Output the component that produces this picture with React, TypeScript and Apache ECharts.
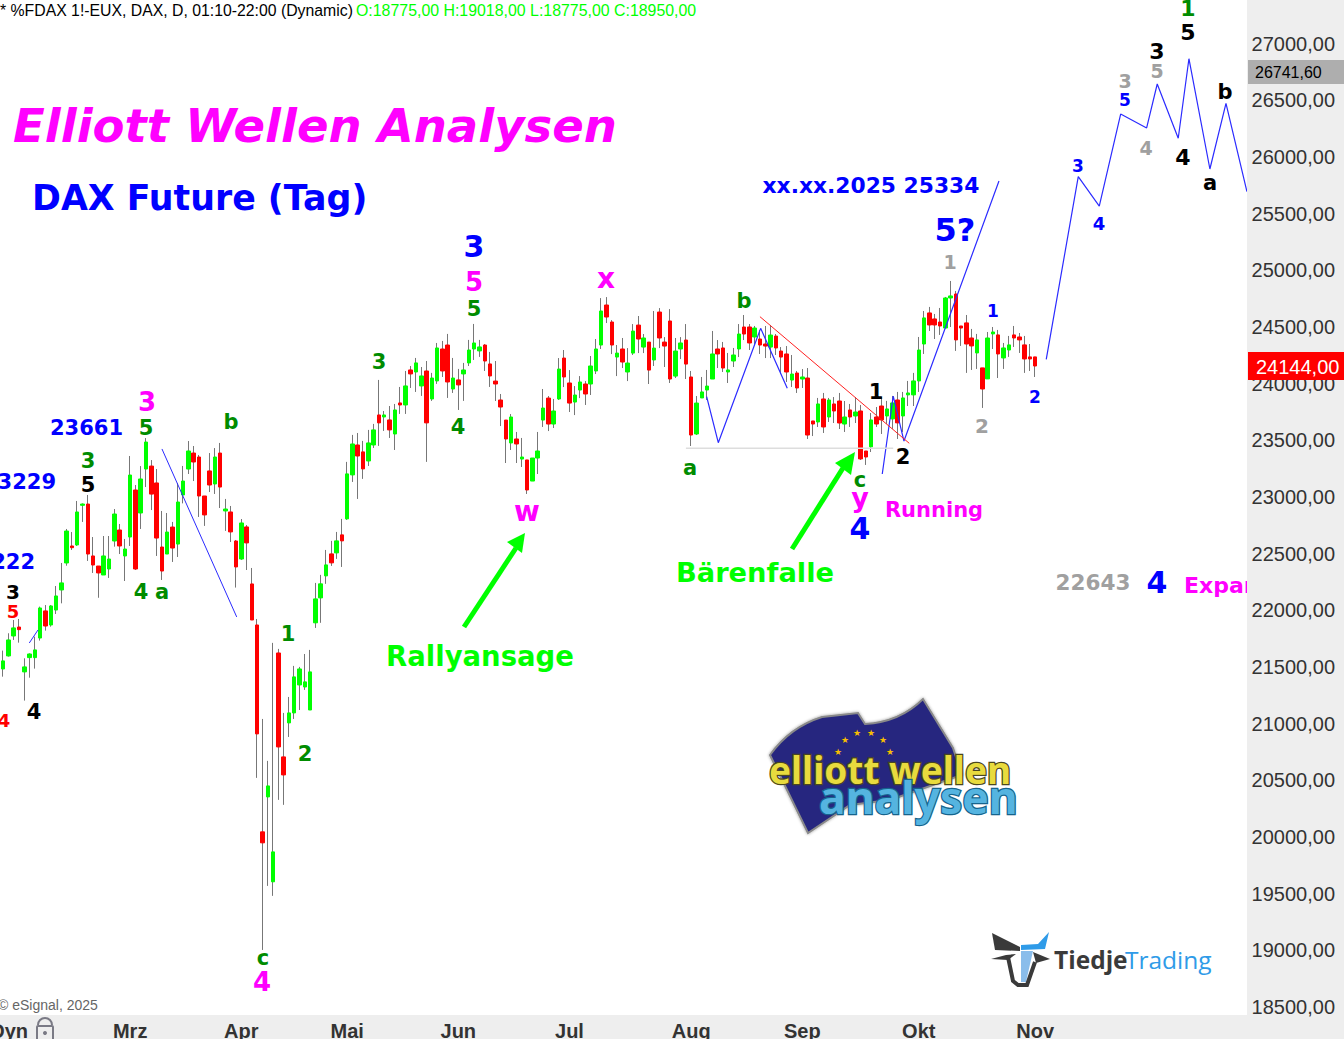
import React, { useEffect, useRef } from "react";
import * as echarts from "echarts";

// Candle direction, r = falling, g = rising
const direction = (
  "rgggrggggrggggrggrrrgggrggrggrrrgrg" +
  "ggrrrrgrgrrgrrrrggrrggggg" +
  "gggrgrggrrggrgrgrgrggrggrrgrggggrr" +
  "rrrgrgrgggrggrrggrgggrrgrggrgrgrrrggrrg" +
  "gggrrgggrrgrrgrrrgrgrrgrgrrgrgrrgr" +
  "rggrgggggrrrggrrrrgrggrggrrrrr"
).split("");

const upperBody = [
  21438, 21553, 21738, 21844, 21852, 21500, 21614, 21650, 22020, 21994, 22038, 22126, 22241, 22699, 22567, 22867, 22937, 22937, 22479, 22390, 22479, 22452, 22849, 22708, 22540, 23193, 23061, 23158, 23484, 23272, 23123, 22558, 22690, 22734, 22955,
  23140, 23405, 23387, 23352, 23008, 23229, 23352, 23387, 22893, 22867, 22611, 22770, 22735, 22232, 21870, 20045, 20450, 19868, 21623, 20706, 21094, 21412, 21482, 21368, 21456,
  22100, 22233, 22400, 22497, 22612, 22665, 23203, 23467, 23458, 23397, 23476, 23591, 23723, 23723, 23679, 23767, 23829, 23979, 24120, 24182, 24067, 24111, 24049, 24314, 24305, 24340, 24049, 24032, 24120, 24296, 24358, 24323, 24340, 24173,
  24022, 23855, 23678, 23705, 23511, 23352, 23326, 23343, 23405, 23784, 23872, 23758, 24128, 24225, 24005, 23899, 24014, 23996, 24155, 24305, 24640, 24693, 24543, 24269, 24305, 24181, 24463, 24516, 24402, 24366, 24313, 24631, 24366, 24552, 24287, 24358, 24384, 24058, 23828,
  23926, 23978, 24261, 24305, 24314, 24120, 24252, 24437, 24499, 24499, 24490, 24393, 24349, 24428, 24419, 24287, 24261, 24084, 24093, 24058, 24049, 23670, 23820, 23864, 23855, 23820, 23846, 23705, 23767, 23749, 23758, 23405, 23679, 23705,
  23802, 23776, 23829, 23855, 23873, 23917, 24023, 24296, 24579, 24623, 24570, 24543, 24755, 24773, 24790, 24508, 24535, 24402, 24385, 24138, 24402, 24455, 24429, 24314, 24341, 24429, 24411, 24341, 24235, 24235,
];
const lowerBody = [
  21406, 21482, 21597, 21773, 21829, 21456, 21582, 21582, 21755, 21861, 21870, 22002, 22179, 22417, 22552, 22576, 22926, 22496, 22399, 22329, 22311, 22364, 22611, 22567, 22479, 22646, 22364, 22858, 23246, 23025, 22637, 22346, 22496, 22549, 22584,
  23017, 23246, 23308, 23008, 22841, 23105, 23114, 23087, 22876, 22691, 22382, 22452, 22594, 21914, 20909, 19948, 20353, 19604, 20794, 20547, 21006, 21094, 21341, 21323, 21120,
  21889, 22109, 22303, 22418, 22506, 22612, 22806, 23194, 23361, 23247, 23317, 23458, 23653, 23705, 23591, 23555, 23811, 23811, 24085, 24102, 23979, 23653, 23864, 24023, 24111, 24014, 23952, 23988, 24085, 24182, 24305, 24288, 24199, 24067,
  23996, 23793, 23511, 23476, 23467, 23334, 23061, 23140, 23343, 23678, 23643, 23643, 23864, 24058, 23828, 23837, 23943, 23908, 23996, 24111, 24340, 24587, 24340, 24234, 24190, 24102, 24269, 24393, 24322, 24119, 24208, 24402, 24331, 24040, 24066, 24305, 24172, 23546, 23555,
  23873, 23943, 24040, 24261, 24137, 24102, 24199, 24305, 24437, 24358, 24411, 24340, 24331, 24322, 24314, 24234, 24102, 24031, 23961, 24040, 23546, 23643, 23661, 23617, 23705, 23758, 23652, 23643, 23705, 23714, 23335, 23352, 23441, 23643,
  23679, 23714, 23688, 23653, 23714, 23900, 23900, 24023, 24349, 24517, 24517, 24508, 24490, 24755, 24385, 24490, 24349, 24332, 24270, 23952, 24041, 24438, 24261, 24226, 24296, 24402, 24385, 24217, 24217, 24155,
];
const highs = [
  21480, 21644, 21797, 21914, 21923, 21576, 21620, 21767, 22032, 22046, 22046, 22214, 22417, 22717, 22690, 22964, 22943, 23017, 22646, 22390, 22655, 22655, 22893, 22761, 22629, 23361, 23105, 23272, 23519, 23325, 23246, 22876, 22858, 22779, 23123,
  23273, 23493, 23449, 23370, 23008, 23387, 23431, 23476, 22982, 22920, 22620, 22805, 22752, 22373, 21923, 21041, 20671, 21712, 21659, 21094, 21235, 21509, 21500, 21614, 21650,
  22241, 22312, 22532, 22612, 22691, 22806, 23309, 23547, 23564, 23494, 23591, 23644, 24032, 23758, 23802, 23820, 23970, 24111, 24155, 24226, 24146, 24199, 24094, 24358, 24376, 24438, 24226, 24129, 24182, 24385, 24526, 24385, 24349, 24279,
  24199, 23908, 23678, 23731, 23573, 23520, 23326, 23343, 23573, 23952, 23890, 23864, 24225, 24296, 24119, 23978, 24066, 24022, 24243, 24393, 24754, 24763, 24560, 24340, 24402, 24313, 24525, 24596, 24437, 24366, 24640, 24666, 24410, 24657, 24402, 24410, 24525, 24111, 23890,
  24058, 24120, 24464, 24384, 24367, 24270, 24314, 24525, 24605, 24525, 24508, 24472, 24508, 24517, 24437, 24322, 24331, 24252, 24111, 24128, 24137, 23670, 23873, 23917, 23873, 23881, 23917, 23846, 23820, 23881, 23811, 23405, 23740, 23793,
  23882, 23847, 23891, 23926, 23926, 24023, 24094, 24411, 24640, 24676, 24614, 24667, 24764, 24905, 24817, 24508, 24605, 24482, 24438, 24138, 24455, 24499, 24473, 24358, 24420, 24508, 24446, 24420, 24349, 24235,
];
const lows = [
  21330, 21414, 21591, 21738, 21714, 21203, 21405, 21485, 21732, 21820, 21855, 21967, 22061, 22393, 22532, 22567, 22779, 22435, 22329, 22110, 22311, 22285, 22561, 22496, 22258, 22567, 22355, 22717, 23087, 22884, 22479, 22267, 22496, 22426, 22470,
  22943, 23202, 23140, 22823, 22744, 23043, 23026, 22902, 22700, 22602, 22200, 22444, 22355, 21914, 20521, 19003, 19568, 19480, 20327, 20283, 20882, 21041, 21120, 21297, 21120,
  21844, 21889, 22233, 22391, 22453, 22382, 22797, 23132, 22982, 23159, 23273, 23432, 23450, 23582, 23520, 23414, 23732, 23732, 23961, 23926, 23891, 23309, 23847, 23997, 24058, 23873, 23917, 23767, 23847, 24155, 24208, 24235, 24111, 23970,
  23846, 23625, 23299, 23414, 23299, 23264, 23026, 23140, 23202, 23617, 23581, 23608, 23855, 23969, 23749, 23722, 23872, 23811, 23899, 24084, 24305, 24534, 24260, 24066, 24137, 24022, 24252, 24269, 24269, 23996, 24155, 24313, 24146, 24005, 24049, 24216, 24040, 23449, 23546,
  23873, 23855, 24040, 24137, 24102, 24005, 24146, 24234, 24384, 24296, 24349, 24261, 24225, 24225, 24252, 24084, 24014, 23970, 23917, 23961, 23511, 23537, 23617, 23564, 23661, 23652, 23599, 23573, 23617, 23652, 23326, 23282, 23396, 23617,
  23555, 23644, 23600, 23511, 23573, 23802, 23802, 23926, 24261, 24464, 24393, 24429, 24490, 24499, 24288, 24332, 24094, 24120, 24129, 23785, 24041, 24305, 24049, 24129, 24235, 24323, 24270, 24094, 24111, 24058,
];

const yTicks = [18500, 19000, 19500, 20000, 20500, 21000, 21500, 22000, 22500, 23000, 23500, 24000, 24500, 25000, 25500, 26000, 26500, 27000];
const monthNames = ["Mrz", "Apr", "Mai", "Jun", "Jul", "Aug", "Sep", "Okt", "Nov"];
const monthBars = [25, 46, 66, 87, 108, 131, 152, 174, 196];

// Wave counts: bar position and price
const waveABars = [6.44, 8.09];
const waveAPrices = [21711, 21826];
const waveBBars = [31.51, 45.63];
const waveBPrices = [23423, 21941];
const waveCBars = [134.42, 136.62, 144.62, 149.65];
const waveCPrices = [23884, 23478, 24487, 23958];
const waveDBars = [167.6, 169.67, 171.7, 189.65];
const waveDPrices = [23202, 23890, 23493, 25787];
const waveEBars = [198.58, 204.63, 208.6, 212.64, 217.55, 219.55, 223.52, 225.54, 229.5, 232.54, 236.5];
const waveEPrices = [24214, 25825, 25566, 26378, 26255, 26643, 26164, 26866, 25893, 26472, 25693];
const redTrendBars = [144.49, 172.7];
const redTrendPrices = [24590, 23473];
const supportBars = [130.5, 169.67];
const supportPrices = [23429, 23430];

const MIN_PRICE = 18429;
const MAX_PRICE = 27384;
const BAR_SLOTS = 237;
const PAGE_SHIFT = 6;

const fmt = (v: number) => v.toFixed(2).replace(".", ",");
const pair = (xs: number[], ys: number[]) => xs.map((x, i) => [x, ys[i]]);

const BLUE = "#0000FF";
const GREEN = "#008C00";
const MAGENTA = "#FF00FF";
const GRAY = "#A0A0A0";
const BLACK = "#000000";
const LIME = "#00FF00";
const VERDANA = '"DejaVu Sans", sans-serif';
const ARIAL = '"Liberation Sans", Arial, sans-serif';

function t(text: string, x: number, y: number, size: number, fill: string, align = "center", extra: any = {}) {
  return {
    type: "text",
    x,
    y,
    z: 4,
    silent: true,
    style: {
      text,
      fill,
      font: `bold ${size}px ${VERDANA}`,
      textAlign: align,
      textVerticalAlign: "middle",
      ...extra,
    },
  };
}
function plain(text: string, x: number, y: number, size: number, fill: string, z = 4, weight = "normal", align = "left") {
  return {
    type: "text",
    x,
    y,
    z,
    silent: true,
    style: { text, fill, font: `${weight} ${size}px ${ARIAL}`, textAlign: align, textVerticalAlign: "middle" },
  };
}
function poly(points: number[][], fill: string, z = 4) {
  return { type: "polygon", z, silent: true, shape: { points }, style: { fill } };
}

const annotations = [
  t("1", 1188, 8, 22, GREEN), t("5", 1188, 32, 22, BLACK), t("3", 1157, 51, 22, BLACK), t("5", 1157, 71, 19, GRAY),
  t("3", 1125, 81, 19, GRAY), t("5", 1125, 100, 17, BLUE), t("4", 1146, 148, 19, GRAY), t("3", 1078, 166, 17, BLUE),
  t("4", 1099, 223, 18, BLUE), t("4", 1183, 157, 22, BLACK), t("a", 1210, 183, 21, BLACK), t("b", 1225, 92, 21, BLACK),
  t("xx.xx.2025 25334", 871, 185, 21.8, BLUE), t("5?", 955, 230, 32, BLUE), t("1", 950, 262, 19, GRAY),
  t("1", 993, 311, 17, BLUE), t("2", 1035, 397, 17, BLUE), t("2", 982, 426, 20, GRAY), t("1", 876, 392, 21, BLACK),
  t("2", 903, 457, 21, BLACK), t("c", 860, 480, 21, GREEN), t("y", 860, 497, 27, MAGENTA), t("4", 860, 528, 30, BLUE),
  t("Running", 934, 510, 21, MAGENTA), t("22643", 1093, 582, 21.5, GRAY), t("4", 1157, 582, 30, BLUE),
  t("Expansion", 1184, 585, 22, MAGENTA, "left"),
  t("3", 147, 402, 26, MAGENTA), t("5", 146, 428, 21, GREEN), t("23661", 123, 428, 21, BLUE, "right"),
  t("3", 88, 461, 21, GREEN), t("5", 88, 485, 21, BLACK), t("3229", 56, 482, 21, BLUE, "right"),
  t("222", 35, 562, 21, BLUE, "right"), t("3", 13, 592, 20, BLACK), t("5", 13, 611, 18, "#FF0000"), t("4", 4, 720, 18, "#FF0000"),
  t("4", 34, 712, 21, BLACK), t("4", 141, 592, 21, GREEN), t("a", 162, 592, 21, GREEN), t("b", 231, 422, 21, GREEN),
  t("1", 288, 634, 21, GREEN), t("2", 305, 754, 21, GREEN), t("c", 263, 958, 21, GREEN), t("4", 262, 982, 26, MAGENTA),
  t("3", 379, 362, 21, GREEN), t("4", 458, 427, 21, GREEN), t("3", 474, 246, 30, BLUE), t("5", 474, 282, 26, MAGENTA),
  t("5", 474, 309, 21, GREEN), t("x", 606, 278, 28, MAGENTA), t("w", 527, 511, 28, MAGENTA), t("a", 690, 468, 21, GREEN),
  t("b", 744, 301, 21, GREEN),
  t("Rallyansage", 480, 656, 27.5, LIME), t("Bärenfalle", 755, 572, 27.3, LIME),
  t("Elliott Wellen Analysen", 13, 125.5, 46.5, MAGENTA, "left", { font: `italic bold 46.5px ${VERDANA}` }),
  t("DAX Future (Tag)", 32, 198, 34.8, BLUE, "left"),
];

const arrows = [
  { type: "line", z: 4, silent: true, shape: { x1: 464, y1: 627, x2: 516, y2: 548 }, style: { stroke: LIME, lineWidth: 5 } },
  poly([[525, 533], [507, 542], [522, 553]], LIME),
  { type: "line", z: 4, silent: true, shape: { x1: 792, y1: 549, x2: 843, y2: 468 }, style: { stroke: LIME, lineWidth: 5 } },
  poly([[855, 452], [835, 463], [851, 475]], LIME),
];

const starSpots = [[845, 740], [857, 733], [871, 733], [883, 740], [890, 752], [838, 752]];

echarts.graphic.registerShape(
  "euFlag",
  echarts.graphic.extendPath("M770 755 Q790 727 822 717 L858 713 L865 724 Q900 722 923 699 L953 748 L962 775 L890 800 L850 805 L808 833 Z", {}) as any
);

const flagLogo = [
  {
    type: "euFlag", z: 3, silent: true,
    style: {
      fill: "#26287F", stroke: "#8A8A8A", lineWidth: 2,
      shadowBlur: 3, shadowColor: "rgba(0,0,0,0.4)",
    },
  },
  ...starSpots.map(([x, y]) => ({
    type: "text", x, y, z: 3, silent: true,
    style: { text: "★", fill: "#F6BE00", font: `9px ${VERDANA}`, textAlign: "center", textVerticalAlign: "middle" },
  })),
  {
    type: "text", x: 769, y: 769, z: 3, silent: true,
    style: {
      text: "elliott wellen", fill: "#E8DB3E", stroke: "#4A4720", lineWidth: 2.5,
      font: `bold 37px "Noto Sans", ${VERDANA}`, textAlign: "left", textVerticalAlign: "middle",
    },
  },
  {
    type: "text", x: 819, y: 796, z: 3, silent: true,
    style: {
      text: "analysen", fill: "#55B4E0", stroke: "#16648C", lineWidth: 2.5,
      font: `bold 44.5px "Noto Sans", ${VERDANA}`, textAlign: "left", textVerticalAlign: "middle",
    },
  },
];

const DARK = "#3A3A3A";
const tiedjeLogo = [
  poly([[992, 933], [1020, 947], [1020, 951], [995, 950]], DARK),
  poly([[1049, 932], [1045, 949], [1021, 950], [1021, 945], [1038, 944]], "#2F9BE8"),
  poly([[1021, 951], [1033, 951], [1026, 982], [1021, 982]], "#8ABDEB"),
  poly([[1033, 952], [1050, 959], [1036, 963]], DARK),
  poly([[991, 959], [1006, 955], [1016, 954], [1008, 960]], DARK),
  {
    type: "polyline", z: 4, silent: true,
    shape: { points: [[1008, 957], [1013, 981], [1018, 985], [1027, 985], [1035, 962]] },
    style: { stroke: DARK, lineWidth: 4, fill: "none" },
  },
  {
    type: "text", x: 1054, y: 959, z: 4, silent: true,
    style: { text: "Tiedje", fill: DARK, font: `bold 24.5px "Open Sans"`, textAlign: "left", textVerticalAlign: "middle" },
  },
  {
    type: "text", x: 1125, y: 959, z: 4, silent: true,
    style: { text: "Trading", fill: "#2F9BE8", font: `24.5px "Open Sans"`, textAlign: "left", textVerticalAlign: "middle" },
  },
];

const lockIcon = [
  { type: "arc", z: 7, silent: true, shape: { cx: 45, cy: 1025, r: 7, startAngle: Math.PI, endAngle: 0 }, style: { stroke: "#7A7A85", lineWidth: 2, fill: "none" } },
  { type: "rect", z: 7, silent: true, shape: { x: 37, y: 1026, width: 16, height: 16, r: 1 }, style: { stroke: "#7A7A85", lineWidth: 2, fill: "none" } },
  { type: "circle", z: 7, silent: true, shape: { cx: 45, cy: 1033, r: 2 }, style: { fill: "#7A7A85" } },
];

const panels = [
  { type: "rect", z: 5, silent: true, shape: { x: 1247, y: 0, width: 97, height: 1039 }, style: { fill: "#EEEEEE" } },
  { type: "rect", z: 5, silent: true, shape: { x: 0, y: 1015, width: 1344, height: 24 }, style: { fill: "#EEEEEE" } },
  { type: "rect", z: 7, silent: true, shape: { x: 1248, y: 60, width: 96, height: 24 }, style: { fill: "#AEAEAE" } },
  plain("26741,60", 1255, 72, 16, "#000000", 8),
  { type: "rect", z: 7, silent: true, shape: { x: 1248, y: 352, width: 96, height: 28 }, style: { fill: "#FF0000" } },
  plain("24144,00", 1256, 367, 20, "#FFFFFF", 8),
  plain("Dyn", 28, 1031, 20, "#333333", 7, "bold", "right"),
];

const header = [
  plain("* %FDAX 1!-EUX, DAX, D, 01:10-22:00 (Dynamic)", 0, 10, 15.8, "#000000", 4),
  plain("O:18775,00 H:19018,00 L:18775,00 C:18950,00", 356, 10, 15.9, LIME, 4),
  plain("© eSignal, 2025", -2, 1005, 14, "#666666", 4),
];

function lineSeries(bars: number[], prices: number[], color: string, width = 1) {
  return {
    type: "line",
    xAxisIndex: 1,
    yAxisIndex: 0,
    data: pair(bars, prices),
    showSymbol: false,
    silent: true,
    z: 3,
    lineStyle: { color, width },
  };
}

export default function App() {
  const ref = useRef<HTMLDivElement>(null);
  useEffect(() => {
    document.body.style.margin = "0";
    document.body.style.overflow = "hidden";
    const chart = echarts.init(ref.current!, null, { renderer: "svg" });
    const categories = Array.from({ length: BAR_SLOTS }, (_, i) => {
      const m = monthBars.indexOf(i);
      return m >= 0 ? monthNames[m] : "";
    });
    const wicks = direction.map((_, i) => [upperBody[i], lowerBody[i], lows[i], highs[i]]);
    const bodies = direction.map((d, i) =>
      d === "g"
        ? [lowerBody[i], upperBody[i], lowerBody[i], upperBody[i]]
        : [upperBody[i], lowerBody[i], lowerBody[i], upperBody[i]]
    );
    chart.setOption({
      animation: false,
      backgroundColor: "#FFFFFF",
      grid: { left: PAGE_SHIFT - 4.81, top: 0, width: 1254.4, height: 1015, containLabel: false, outerBoundsMode: "none" },
      xAxis: [
        {
          type: "category",
          data: categories,
          z: 6,
          boundaryGap: true,
          axisLine: { show: false },
          axisTick: { show: false },
          splitLine: { show: false },
          axisLabel: { interval: 0, margin: 6, fontSize: 20, fontWeight: "bold", color: "#333333", fontFamily: ARIAL, hideOverlap: false },
        },
        { type: "value", min: 0, max: BAR_SLOTS, show: false, splitLine: { show: false } },
      ],
      yAxis: {
        type: "value",
        position: "right",
        min: MIN_PRICE,
        max: MAX_PRICE,
        z: 6,
        axisLine: { show: false },
        axisTick: { show: false },
        splitLine: { show: false },
        axisLabel: {
          customValues: yTicks,
          margin: 2,
          fontSize: 20,
          color: "#333333",
          fontFamily: ARIAL,
          formatter: (v: number) => fmt(v),
        },
      },
      series: [
        {
          type: "candlestick",
          data: wicks,
          barWidth: 1,
          silent: true,
          z: 2,
          itemStyle: { color: "#777777", color0: "#777777", borderColor: "#777777", borderColor0: "#777777", borderWidth: 1 },
        },
        {
          type: "candlestick",
          data: bodies,
          barWidth: 4,
          silent: true,
          z: 2,
          itemStyle: { color: "#00FF00", color0: "#FF0000", borderColor: "#00FF00", borderColor0: "#FF0000", borderWidth: 1 },
        },
        lineSeries(waveABars, waveAPrices, "#2B2BFF"),
        lineSeries(waveBBars, waveBPrices, "#2B2BFF"),
        lineSeries(waveCBars, waveCPrices, "#2B2BFF", 1.2),
        lineSeries(waveDBars, waveDPrices, "#2B2BFF", 1.2),
        lineSeries(waveEBars, waveEPrices, "#2B2BFF", 1.2),
        lineSeries(redTrendBars, redTrendPrices, "#FF2020"),
        lineSeries(supportBars, supportPrices, "#DDDDDD", 1.5),
      ],
      graphic: {
        elements: [
          {
            type: "group",
            x: PAGE_SHIFT,
            y: 0,
            children: [...annotations, ...arrows, ...flagLogo, ...tiedjeLogo, ...header, ...panels, ...lockIcon],
          },
        ],
      },
    });
    return () => chart.dispose();
  }, []);
  return <div ref={ref} style={{ position: "fixed", left: -PAGE_SHIFT, top: 0, width: 1344 + PAGE_SHIFT, height: 1039, overflow: "hidden" }} />;
}
